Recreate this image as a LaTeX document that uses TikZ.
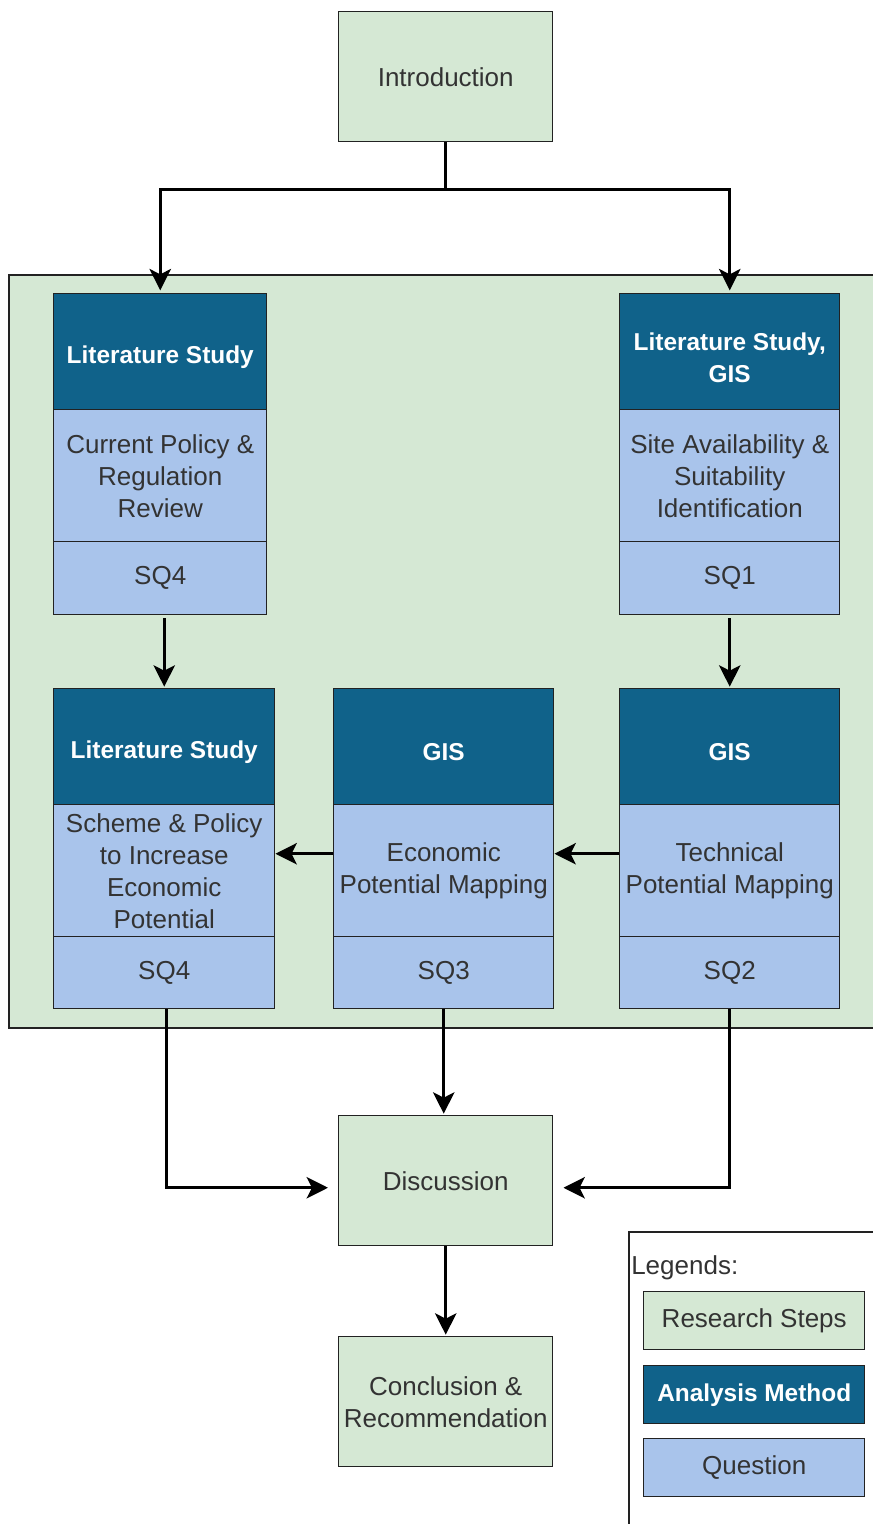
\documentclass[tikz,border=0pt]{standalone}
\usepackage{fontspec}
\setmainfont{Liberation Sans}
\usetikzlibrary{arrows.meta,calc}
\definecolor{stepgreen}{HTML}{D5E8D4}
\definecolor{methodblue}{HTML}{10628A}
\definecolor{questblue}{HTML}{A9C4EB}
\definecolor{txtgray}{HTML}{333333}
\definecolor{edgegray}{HTML}{222222}
\newcommand{\headstrut}{\rule{0pt}{21pt}}
\begin{document}
\begin{tikzpicture}[x=0.75pt,y=-0.75pt,
  cell/.style 2 args={draw=edgegray, line width=1.1pt, minimum width=#1*0.75pt,
    minimum height=#2*0.75pt, inner sep=0pt, anchor=north west, align=center,
    font=\fontsize{19.5}{24}\selectfont, text=txtgray},
  stepbox/.style={fill=stepgreen},
  methodbox/.style={fill=methodblue, text=white, font=\bfseries\fontsize{18.3}{24}\selectfont},
  questbox/.style={fill=questblue},
  flow/.style={line width=2.4pt, -{Stealth[length=16pt,width=16pt,inset=4pt]}},
  plainline/.style={line width=2.4pt}]
\clip (0,0) rectangle (873,1524);
\useasboundingbox (0,0) rectangle (873,1524);
\fill[white] (0,0) rectangle (873,1524);

% research steps
\node[cell={214}{130}, stepbox] (intro) at (338,11) {Introduction};
\node[cell={214}{130}, stepbox] (disc) at (338,1115) {Discussion};
\node[cell={214}{130}, stepbox] (concl) at (338,1336) {Conclusion \&\\Recommendation};

% analysis panel
\draw[draw=edgegray, line width=1.1pt, fill=stepgreen] (9,275) rectangle (890,1028);

% column A
\node[cell={213}{116}, methodbox] (aH) at (53,293) {\headstrut Literature Study};
\node[cell={213}{132}, questbox] (aM) at (53,409) {Current Policy \&\\Regulation\\Review};
\node[cell={213}{73}, questbox] (aQ) at (53,541) {SQ4};
% column B
\node[cell={220}{116}, methodbox] (bH) at (619,293) {\rule{0pt}{22pt}Literature Study,\\GIS};
\node[cell={220}{132}, questbox] (bM) at (619,409) {Site Availability \&\\Suitability\\Identification};
\node[cell={220}{73}, questbox] (bQ) at (619,541) {SQ1};
% column C
\node[cell={221}{116}, methodbox] (cH) at (53,688) {\headstrut Literature Study};
\node[cell={221}{132}, questbox] (cM) at (53,804) {Scheme \& Policy\\to Increase\\Economic\\Potential};
\node[cell={221}{72}, questbox] (cQ) at (53,936) {SQ4};
% column D
\node[cell={220}{116}, methodbox] (dH) at (333,688) {\headstrut GIS};
\node[cell={220}{132}, questbox] (dM) at (333,804) {Economic\\Potential Mapping};
\node[cell={220}{72}, questbox] (dQ) at (333,936) {SQ3};
% column E
\node[cell={220}{116}, methodbox] (eH) at (619,688) {\headstrut GIS};
\node[cell={220}{132}, questbox] (eM) at (619,804) {Technical\\Potential Mapping};
\node[cell={220}{72}, questbox] (eQ) at (619,936) {SQ2};

% connectors
\coordinate (split) at ($(intro.south)+(0,47)$);
\draw[plainline] (intro.south) -- (split);
\draw[flow, shorten >=2pt] (split) -| (aH.north);
\draw[flow, shorten >=2pt] (split) -| (bH.north);
\draw[flow, shorten >=1pt] (cH.north |- aQ.south) ++(0,3) -- (cH.north);
\draw[flow, shorten >=1pt] (eH.north |- bQ.south) ++(0,3) -- (eH.north);
\draw[flow] ($(eM.west)+(0,-17)$) -- ($(dM.east)+(0,-17)$);
\draw[flow] ($(dM.west)+(0,-17)$) -- ($(cM.east)+(0,-17)$);
\draw[flow, shorten >=1pt] (dQ.south) -- (dQ.south |- disc.north);
\coordinate (discL) at ($(disc.west)+(-10,7)$);
\coordinate (discR) at ($(disc.east)+(10,7)$);
\draw[flow] ($(cQ.south)+(2,0)$) |- (discL);
\draw[flow] (eQ.south) |- (discR);
\draw[flow, shorten >=1pt] (disc.south) -- (concl.north);

% legend
\draw[draw=edgegray, line width=1.1pt, fill=white] (629,1232) rectangle (900,1540);
\node[anchor=west, inner sep=0pt, font=\fontsize{19.5}{24}\selectfont, text=txtgray] (legtitle) at (631,1268) {Legends:};
\node[cell={221}{58}, stepbox] (legstep) at (643,1291) {Research Steps};
\node[cell={221}{58}, methodbox] (legmethod) at (643,1365) {Analysis Method};
\node[cell={221}{58}, questbox] (legquest) at (643,1438) {Question};
\end{tikzpicture}
\end{document}
